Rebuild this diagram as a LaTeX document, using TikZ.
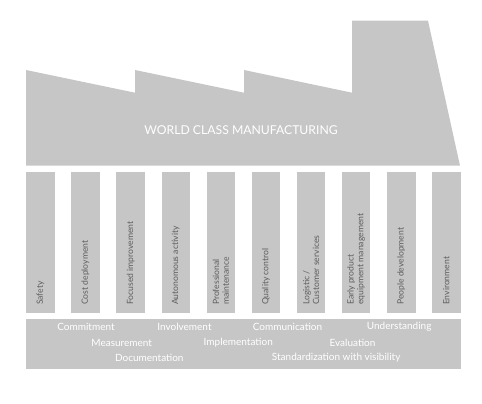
\documentclass[tikz,border=0pt]{standalone}
\usepackage{fontspec}
\setmainfont{Lato}
\usetikzlibrary{calc}
\definecolor{wcm-gray}{HTML}{C6C6C6}
\definecolor{wcm-text}{HTML}{5E5E5E}

\begin{document}
\begin{tikzpicture}[x=1pt, y=-1pt,
      every node/.style={inner sep=0pt}]
    \useasboundingbox (0,0) rectangle (482,404);
    % factory roof and chimney
    \fill[wcm-gray] (26,70) -- (135,92.7) -- (135,70) -- (244,92.7) -- (244,70)
      -- (352,92.7) -- (352,20.7) -- (428,20.7) -- (460,165.7) -- (26,165.7) -- cycle;
    \node[text=white, font=\fontsize{12.2}{14}\selectfont] (title) at (241,130)
      {WORLD CLASS MANUFACTURING};
    % pillars
    \foreach \lbl [count=\i from 0] in {Safety, Cost deployment, Focused improvement,
        Autonomous activity, {Professional\\maintenance}, Quality control,
        {Logistic /\\Customer services}, {Early product\\equipment management},
        People development, Environment} {
      \node[fill=wcm-gray, anchor=north west, minimum width=28.5pt,
            minimum height=140.7pt] (P\i) at (26+45.1*\i, 172) {};
      \node[rotate=90, anchor=west, align=left, text=wcm-text,
            font=\fontsize{8.6}{9.8}\selectfont] (L\i)
            at ($(P\i.south)+(0,-8)$) {\lbl};
    }
    % base
    \node[fill=wcm-gray, anchor=north west, minimum width=434.7pt,
          minimum height=50pt] (base) at (26,319) {};
    \begin{scope}[every node/.style={text=white, font=\fontsize{10}{12}\selectfont}]
      \node (commit) at (86,327) {Commitment};
      \node (involve) at (184.5,327) {Involvement};
      \node (commun) at (287.5,327) {Communication};
      \node (underst) at (399.2,327) {Understanding};
      \node (measure) at (121.7,342.7) {Measurement};
      \node (implem) at (238.3,342.7) {Implementation};
      \node (eval) at (352.5,342.7) {Evaluation};
      \node (docu) at (149.3,357.7) {Documentation};
      \node (standard) at (336.2,357.7) {Standardization with visibility};
    \end{scope}
  \end{tikzpicture}
\end{document}
